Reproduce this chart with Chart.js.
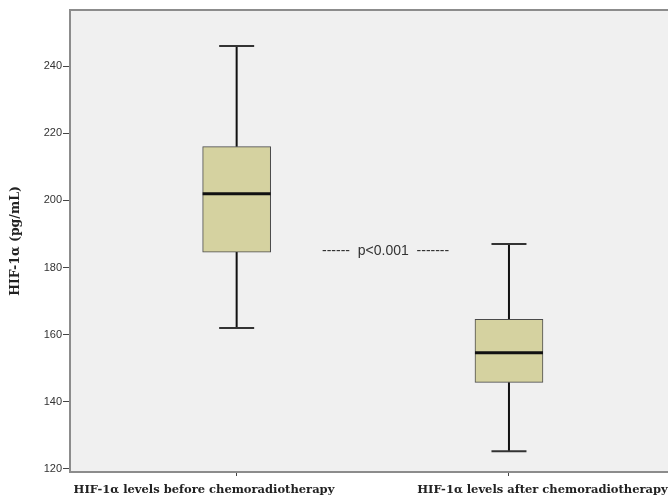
<!DOCTYPE html>
<html>
<head>
<meta charset="utf-8">
<style>
  html, body { margin: 0; padding: 0; background: #ffffff; }
  canvas { display: block; }
</style>
</head>
<body>
<canvas id="myChart" width="668" height="504"></canvas>
<script src="https://cdn.jsdelivr.net/npm/chart.js@4/dist/chart.umd.min.js"></script>
<script>
'use strict';

// categories (x axis) and the five numbers of each box
const categories = ['HIF-1α levels before chemoradiotherapy', 'HIF-1α levels after chemoradiotherapy'];
const whiskerLow = [162, 125.3];
const q1 = [184.6, 145.8];
const median = [202, 154.6];
const q3 = [216, 164.6];
const whiskerHigh = [246, 187];

// y axis ticks
const yTicks = [120, 140, 160, 180, 200, 220, 240];

// the text between the boxes, placed in data units
const pText = '------  p<0.001  -------';
const pTextAt = { x: 1.547, y: 184.9 };

// category labels sit a bit off their tick (as in the source figure)
const labelShift = [-0.12, 0.123];

const colors = {
    plot: '#f0f0f0',
    frame: '#8c8c8c',
    box: '#d5d2a0',
    boxBorder: '#4a4a4a',
    whisker: '#111111',
    cap: '#333333',
    median: '#111111',
    text: '#222222',
};

// box-plot pieces built from the arrays above
let boxData = categories.map((c, i) => ({ x: i + 1, y: [q1[i], q3[i]] }));
let whiskerData = [];
categories.forEach((c, i) => {
    whiskerData.push({ x: i + 1, y: q3[i] }, { x: i + 1, y: whiskerHigh[i] }, { x: i + 1, y: null });
    whiskerData.push({ x: i + 1, y: q1[i] }, { x: i + 1, y: whiskerLow[i] }, { x: i + 1, y: null });
});
let capData = [];
categories.forEach((c, i) => {
    capData.push({ x: i + 1, y: whiskerHigh[i] }, { x: i + 1, y: whiskerLow[i] });
});
let medianData = categories.map((c, i) => ({ x: i + 1, y: median[i] }));

// grey plot area and its top edge
const plotBackground = {
    id: 'plotBackground',
    beforeDraw(chart) {
        const { ctx, chartArea: { left, top, right, bottom } } = chart;
        ctx.save();
        ctx.fillStyle = colors.plot;
        ctx.fillRect(left, top, right - left, bottom - top);
        ctx.strokeStyle = colors.frame;
        ctx.lineWidth = 2;
        ctx.beginPath();
        ctx.moveTo(left - 1, top);
        ctx.lineTo(right, top);
        ctx.stroke();
        ctx.restore();
    }
};

// "p<0.001" note, placed through the scales
const pNote = {
    id: 'pNote',
    afterDatasetsDraw(chart) {
        const { ctx, scales: { x, y } } = chart;
        ctx.save();
        ctx.font = '14px "Liberation Sans", Arial, sans-serif';
        ctx.fillStyle = '#333333';
        ctx.textAlign = 'center';
        ctx.textBaseline = 'middle';
        ctx.fillText(pText, x.getPixelForValue(pTextAt.x), y.getPixelForValue(pTextAt.y));
        ctx.restore();
    }
};

const xMin = 0.388;
const xMax = 2.584;

// create chart
let ctx = document.getElementById('myChart').getContext('2d');
let myChart = new Chart(ctx, {
    type: 'bar',
    data: {
        datasets: [
            {
                type: 'line',
                data: whiskerData,
                borderColor: colors.whisker,
                borderWidth: 2,
                pointRadius: 0,
                spanGaps: false,
                fill: false,
                order: 3,
            }, {
                type: 'bar',
                data: boxData,
                backgroundColor: colors.box,
                borderColor: colors.boxBorder,
                borderWidth: 1,
                borderSkipped: false,
                barThickness: 68,
                order: 2,
            }, {
                type: 'line',
                data: capData,
                showLine: false,
                pointStyle: 'line',
                pointRadius: 17.5,
                pointBorderWidth: 2,
                pointBorderColor: colors.cap,
                order: 1,
            }, {
                type: 'line',
                data: medianData,
                showLine: false,
                pointStyle: 'line',
                pointRadius: 34,
                pointBorderWidth: 3,
                pointBorderColor: colors.median,
                order: 0,
            }
        ]
    },
    options: {
        responsive: false,
        animation: false,
        events: [],
        layout: {
            autoPadding: false,
            padding: { top: 10, left: 0, right: 0, bottom: 0 },
        },
        plugins: {
            legend: { display: false },
            tooltip: { enabled: false },
        },
        scales: {
            // tick marks under the two boxes
            x: {
                type: 'linear',
                position: 'bottom',
                min: xMin,
                max: xMax,
                offset: false,
                weight: 0,
                afterBuildTicks: function (scale) {
                    scale.ticks = categories.map((c, i) => ({ value: i + 1 }));
                },
                afterFit: function (scale) {
                    scale.height = 4;
                    scale.paddingLeft = 0;
                    scale.paddingRight = 0;
                },
                ticks: { display: false },
                grid: {
                    offset: false,
                    drawOnChartArea: false,
                    drawTicks: true,
                    tickLength: 4,
                    color: '#444444',
                    lineWidth: 1,
                },
                border: { display: true, color: colors.frame, width: 2 },
            },
            // category names
            x2: {
                type: 'linear',
                position: 'bottom',
                min: xMin,
                max: xMax,
                offset: false,
                weight: 1,
                afterBuildTicks: function (scale) {
                    scale.ticks = categories.map((c, i) => ({ value: i + 1 + labelShift[i] }));
                },
                afterFit: function (scale) {
                    scale.height = 28;
                    scale.paddingLeft = 0;
                    scale.paddingRight = 0;
                },
                ticks: {
                    autoSkip: false,
                    maxRotation: 0,
                    padding: 7,
                    color: colors.text,
                    font: { family: '"DejaVu Serif", serif', size: 11.5, weight: 'bold' },
                    callback: function (value, index) {
                        return categories[index];
                    },
                },
                grid: { display: false, drawTicks: false, offset: false },
                border: { display: false },
            },
            y: {
                type: 'linear',
                min: 119.1,
                max: 256.7,
                afterBuildTicks: function (scale) {
                    scale.ticks = yTicks.map(v => ({ value: v }));
                },
                afterFit: function (scale) {
                    scale.width = 70;
                    scale.paddingTop = 0;
                    scale.paddingBottom = 0;
                },
                ticks: {
                    padding: 1,
                    color: '#333333',
                    font: { family: '"Liberation Sans", Arial, sans-serif', size: 11 },
                },
                grid: {
                    drawOnChartArea: false,
                    drawTicks: true,
                    tickLength: 7,
                    color: '#444444',
                    lineWidth: 1,
                },
                border: { display: true, color: colors.frame, width: 2 },
                title: {
                    display: true,
                    text: 'HIF-1α (pg/mL)',
                    color: colors.text,
                    padding: { top: 8, bottom: 0 },
                    font: { family: '"DejaVu Serif", serif', size: 12.5, weight: 'bold' },
                },
            },
        },
    },
    plugins: [plotBackground, pNote],
});
</script>
</body>
</html>
